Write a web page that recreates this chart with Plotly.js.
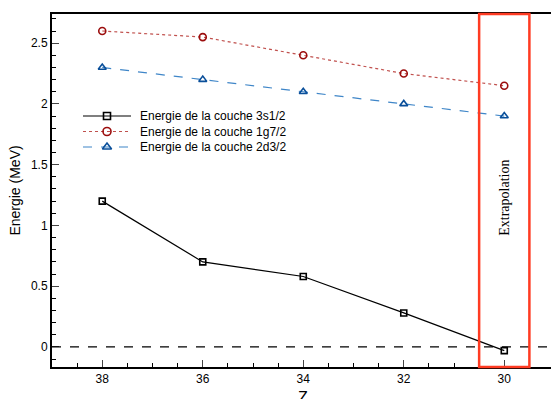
<!DOCTYPE html>
<html>
<head>
<meta charset="utf-8">
<script src="https://cdn.plot.ly/plotly-3.0.1.min.js"></script>
<style>html,body{margin:0;padding:0;background:#fff;}#chart{width:551px;height:399px;}</style>
</head>
<body>
<div id="chart"></div>
<script>
const zValues = [38, 36, 34, 32, 30];
const energy3s = [1.2, 0.7, 0.58, 0.28, -0.03];
const energy1g = [2.6, 2.55, 2.4, 2.25, 2.15];
const energy2d = [2.3, 2.2, 2.1, 2.0, 1.9];
const seriesNames = ["Energie de la couche 3s1/2", "Energie de la couche 1g7/2", "Energie de la couche 2d3/2"];
const extrapolationRange = [30.5, 29.5];
const extrapolationLabel = "Extrapolation";
const xTitle = "Z";
const yTitle = "Energie (MeV)";

const W = 551, H = 399;
const M = {l: 52, r: 0, t: 14, b: 32};
const pw = W - M.l - M.r, ph = H - M.t - M.b;
const px = v => (v - M.l) / pw;
const py = v => (H - M.b - v) / ph;

const styles = [
  {line: {color: "#000000", width: 1.2}, marker: {symbol: "square-open", size: 6, color: "#000000", line: {width: 1.6}}},
  {line: {color: "#c0504d", width: 1.2, dash: "dot"}, marker: {symbol: "circle-open", size: 7, color: "#9b0d0d", line: {width: 1.6}}},
  {line: {color: "#3f86c8", width: 1.2, dash: "dash"}, marker: {symbol: "triangle-up-open", size: 7, color: "#0a4f9a", line: {width: 1.6}}}
];
const seriesData = [energy3s, energy1g, energy2d];

const traces = [];
seriesData.forEach((ys, i) => {
  traces.push({x: zValues, y: ys, name: seriesNames[i], mode: "lines+markers",
    line: styles[i].line, marker: styles[i].marker, showlegend: false});
});

// custom legend (overlay axes spanning the plot area, 0..1)
const legendRowsPx = [116, 131.5, 147];
const legendLinePx = [83, 131];
const legendMarkPx = 107;
const legendTextPx = 138;
const annotations = [];
seriesData.forEach((ys, i) => {
  const yy = py(legendRowsPx[i]);
  traces.push({x: [px(legendLinePx[0]), px(legendLinePx[1])], y: [yy, yy], xaxis: "x2", yaxis: "y2",
    mode: "lines", line: styles[i].line, showlegend: false, hoverinfo: "skip"});
  traces.push({x: [px(legendMarkPx)], y: [yy], xaxis: "x2", yaxis: "y2",
    mode: "markers", marker: Object.assign({}, styles[i].marker, {size: styles[i].marker.size + 1}),
    showlegend: false, hoverinfo: "skip"});
  annotations.push({xref: "paper", yref: "paper", x: px(legendTextPx), y: yy, xanchor: "left", yanchor: "middle",
    text: seriesNames[i], showarrow: false, font: {size: 12, color: "#000"}});
});

annotations.push({xref: "x", x: (extrapolationRange[0] + extrapolationRange[1]) / 2, yref: "y", y: 1.23,
  text: extrapolationLabel, showarrow: false, textangle: -90,
  font: {family: "Liberation Serif, Times New Roman, serif", size: 14, color: "#000"}});
annotations.push({xref: "x", x: 34, yref: "paper", y: py(387), xanchor: "center", yanchor: "top",
  text: xTitle, showarrow: false, font: {size: 16, color: "#000"}});

const layout = {
  width: W, height: H,
  margin: M,
  paper_bgcolor: "#ffffff", plot_bgcolor: "#ffffff",
  font: {family: "Liberation Sans, Arial, sans-serif", color: "#000"},
  showlegend: false,
  xaxis: {range: [39, 29.07], tick0: 30, dtick: 2, ticks: "inside", ticklen: 7, tickwidth: 1,
          showgrid: false, zeroline: false, showline: true, linewidth: 2, linecolor: "#000", mirror: true,
          tickfont: {size: 12},
          minor: {dtick: 0.5, ticks: "inside", ticklen: 4, tickwidth: 1, tickcolor: "#000", showgrid: false}},
  yaxis: {range: [-0.165, 2.74], tick0: 0, dtick: 0.5, ticks: "inside", ticklen: 7, tickwidth: 1,
          showgrid: false, zeroline: false, showline: true, linewidth: 2, linecolor: "#000",
          tickfont: {size: 12},
          minor: {dtick: 0.1, ticks: "inside", ticklen: 4, tickwidth: 1, tickcolor: "#000", showgrid: false},
          title: {text: yTitle, font: {size: 14}, standoff: 7}},
  xaxis2: {overlaying: "x", range: [0, 1], visible: false, fixedrange: true},
  yaxis2: {overlaying: "y", range: [0, 1], visible: false, fixedrange: true},
  shapes: [
    {type: "line", xref: "paper", x0: 0, x1: 1, yref: "y", y0: 0, y1: 0,
     line: {color: "#000", width: 1.2, dash: "dash"}},
    {type: "rect", xref: "x", x0: extrapolationRange[0], x1: extrapolationRange[1], yref: "paper", y0: 0, y1: 1,
     line: {color: "#ff3b22", width: 2.5}}
  ],
  annotations: annotations
};

Plotly.newPlot("chart", traces, layout, {displayModeBar: false, staticPlot: true});
</script>
</body>
</html>
